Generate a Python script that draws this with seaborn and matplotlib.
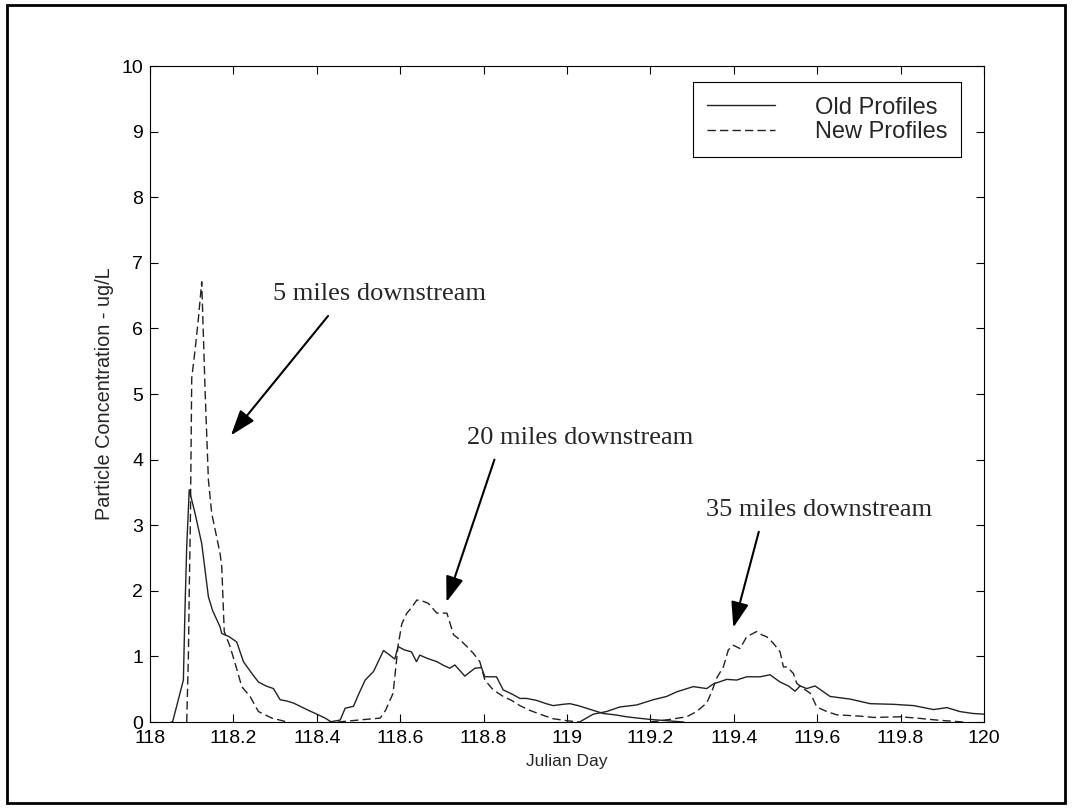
import pandas as pd
import seaborn as sns
import matplotlib.pyplot as plt
from matplotlib.patches import Rectangle

# values (Julian day, ug/L)
old5_day = [118.05, 118.054, 118.080, 118.084, 118.088, 118.094, 118.108, 118.124, 118.140, 118.150,
            118.168, 118.172, 118.190, 118.208, 118.224, 118.242, 118.260, 118.278, 118.296, 118.312,
            118.328, 118.344, 118.360, 118.376, 118.400, 118.420, 118.435]
old5_val = [0, 0, 0.64, 1.76, 2.67, 3.54, 3.18, 2.72, 1.91, 1.7,
            1.45, 1.35, 1.3, 1.22, 0.92, 0.76, 0.61, 0.55, 0.51, 0.34,
            0.32, 0.29, 0.24, 0.19, 0.12, 0.06, 0.0]

new5_day = [118.088, 118.092, 118.094, 118.097, 118.100, 118.108, 118.116, 118.124, 118.132, 118.140,
            118.148, 118.168, 118.172, 118.178, 118.192, 118.206, 118.220, 118.240, 118.260, 118.292, 118.33]
new5_val = [0, 1.0, 1.96, 3.18, 5.24, 5.67, 6.15, 6.71, 5.06, 3.69,
            3.18, 2.57, 2.37, 1.38, 1.15, 0.85, 0.54, 0.39, 0.16, 0.06, 0.0]

old20_day = [118.43, 118.456, 118.468, 118.488, 118.500, 118.516, 118.536, 118.560, 118.575, 118.587,
             118.595, 118.610, 118.627, 118.639, 118.647, 118.665, 118.688, 118.705, 118.719, 118.731,
             118.755, 118.779, 118.795, 118.803, 118.831, 118.847, 118.870, 118.887, 118.903, 118.927,
             118.950, 118.967, 118.990, 119.007, 119.027, 119.047, 119.067, 119.087, 119.115, 119.143,
             119.170, 119.199, 119.240, 119.28]
old20_val = [0, 0.03, 0.21, 0.24, 0.42, 0.64, 0.77, 1.09, 1.02, 0.96,
             1.15, 1.1, 1.07, 0.92, 1.02, 0.97, 0.92, 0.86, 0.82, 0.87,
             0.70, 0.82, 0.83, 0.69, 0.69, 0.49, 0.42, 0.36, 0.36, 0.33,
             0.28, 0.25, 0.27, 0.28, 0.25, 0.21, 0.17, 0.13, 0.11, 0.08,
             0.06, 0.04, 0.02, 0]

new20_day = [118.45, 118.50, 118.552, 118.565, 118.583, 118.595, 118.604, 118.616, 118.628, 118.640,
             118.655, 118.667, 118.688, 118.712, 118.728, 118.744, 118.760, 118.775, 118.791, 118.803,
             118.823, 118.847, 118.867, 118.887, 118.910, 118.935, 118.967, 119.0, 119.03]
new20_val = [0, 0.03, 0.06, 0.18, 0.44, 1.17, 1.50, 1.66, 1.75, 1.86,
             1.84, 1.81, 1.66, 1.66, 1.33, 1.25, 1.15, 1.05, 0.92, 0.64,
             0.49, 0.39, 0.33, 0.25, 0.18, 0.12, 0.05, 0.02, 0]

old35_day = [119.03, 119.063, 119.095, 119.127, 119.167, 119.207, 119.239, 119.263, 119.303, 119.335,
             119.351, 119.383, 119.407, 119.431, 119.463, 119.487, 119.511, 119.531, 119.547, 119.559,
             119.575, 119.595, 119.631, 119.679, 119.727, 119.783, 119.832, 119.879, 119.911, 119.942,
             119.974, 120.0]
old35_val = [0, 0.12, 0.16, 0.23, 0.26, 0.34, 0.39, 0.46, 0.54, 0.51,
             0.58, 0.65, 0.64, 0.69, 0.69, 0.72, 0.61, 0.55, 0.47, 0.55,
             0.51, 0.55, 0.39, 0.35, 0.28, 0.27, 0.25, 0.19, 0.22, 0.16,
             0.13, 0.12]

new35_day = [119.20, 119.247, 119.287, 119.311, 119.335, 119.347, 119.359, 119.375, 119.387, 119.399,
             119.415, 119.431, 119.455, 119.467, 119.479, 119.495, 119.511, 119.519, 119.528, 119.543,
             119.551, 119.567, 119.583, 119.591, 119.599, 119.623, 119.647, 119.703, 119.735, 119.799,
             119.839, 119.887, 119.95]
new35_val = [0, 0.04, 0.08, 0.16, 0.29, 0.46, 0.67, 0.84, 1.10, 1.17,
             1.12, 1.30, 1.38, 1.33, 1.30, 1.20, 1.07, 0.84, 0.84, 0.74,
             0.59, 0.51, 0.44, 0.34, 0.23, 0.16, 0.11, 0.09, 0.07, 0.08,
             0.06, 0.03, 0.0]

x_ticks = [118, 118.2, 118.4, 118.6, 118.8, 119, 119.2, 119.4, 119.6, 119.8, 120]
x_ticklabels = ['118', '118.2', '118.4', '118.6', '118.8', '119', '119.2', '119.4', '119.6', '119.8', '120']
y_ticks = [0, 1, 2, 3, 4, 5, 6, 7, 8, 9, 10]

curves = [
    ('Old Profiles', '5', old5_day, old5_val),
    ('New Profiles', '5', new5_day, new5_val),
    ('Old Profiles', '20', old20_day, old20_val),
    ('New Profiles', '20', new20_day, new20_val),
    ('Old Profiles', '35', old35_day, old35_val),
    ('New Profiles', '35', new35_day, new35_val),
]
frames = []
for prof, site, d, v in curves:
    frames.append(pd.DataFrame({'day': d, 'conc': v, 'profile': prof, 'run': prof + site}))
df = pd.concat(frames, ignore_index=True)

sns.set_style('ticks')
plt.rcParams['font.family'] = ['Liberation Sans', 'DejaVu Sans']

fig = plt.figure(figsize=(10.77, 8.10), dpi=100)
ax = fig.add_axes([0.1393, 0.1086, 0.7743, 0.8099])

sns.lineplot(data=df, x='day', y='conc', style='profile', units='run', estimator=None,
             style_order=['Old Profiles', 'New Profiles'],
             dashes={'Old Profiles': '', 'New Profiles': (6, 3)},
             color='#222222', linewidth=1.0, sort=False, ax=ax)

ax.set_xlim(118, 120)
ax.set_ylim(0, 10)
ax.set_xticks(x_ticks)
ax.set_xticklabels(x_ticklabels)
ax.set_yticks(y_ticks)
ax.tick_params(direction='in', length=6, width=0.8, top=True, right=True,
               labelsize=14, colors='k')
ax.tick_params(axis='x', pad=6)
ax.tick_params(axis='y', pad=5)
for s in ax.spines.values():
    s.set_linewidth(0.8)
    s.set_color('k')

ax.set_xlabel('Julian Day', fontsize=12.5, labelpad=5)
ax.set_ylabel('Particle Concentration - ug/L', fontsize=14.3, labelpad=5)

handles, labels = ax.get_legend_handles_labels()
leg = ax.legend(handles, labels, loc='upper right', bbox_to_anchor=(0.973, 0.975),
                borderaxespad=0, fontsize=17, handlelength=2.85, handletextpad=1.7,
                labelspacing=0.1, borderpad=0.6, fancybox=False, framealpha=1,
                edgecolor='k')
leg.get_frame().set_linewidth(0.8)

notes = [
    ('5 miles downstream', 118.295, 6.52, 118.427, 6.19, 118.194, 4.37),
    ('20 miles downstream', 118.760, 4.33, 118.826, 4.0, 118.711, 1.83),
    ('35 miles downstream', 119.333, 3.23, 119.460, 2.90, 119.399, 1.44),
]
for txt, tx, ty, ax0, ay0, ax1, ay1 in notes:
    ax.text(tx, ty, txt, fontsize=19, family=['Liberation Serif'], va='center', ha='left')
    ax.annotate('', xy=(ax1, ay1), xytext=(ax0, ay0),
                arrowprops=dict(arrowstyle='-|>,head_length=1.3,head_width=0.45',
                                mutation_scale=12, lw=1.5, color='k',
                                shrinkA=0, shrinkB=0))

# outer frame around the whole picture
fig.patches.append(Rectangle((7 / 1077, 1 - 803 / 810), (1065 - 7) / 1077, (803 - 5) / 810,
                             transform=fig.transFigure, fill=False, lw=2, ec='k'))

fig.savefig('out.png', dpi=100)
